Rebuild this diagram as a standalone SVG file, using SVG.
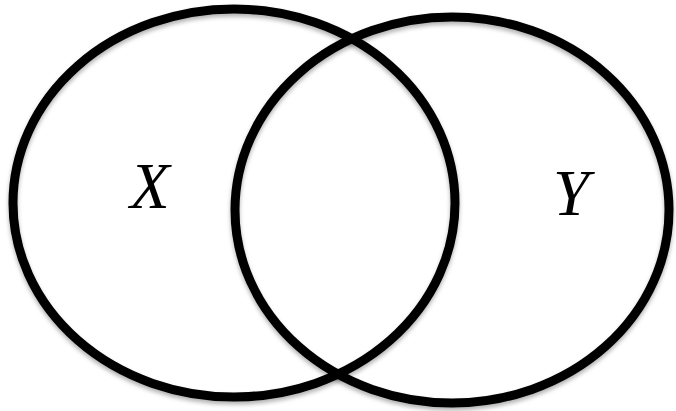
<svg xmlns="http://www.w3.org/2000/svg" width="676" height="411" viewBox="0 0 676 411">
<style>
.set{fill:none;stroke:#000;stroke-width:9;filter:url(#sh)}
.lbl{font-family:"Liberation Serif","DejaVu Serif",serif;font-style:italic;font-size:65px;fill:#000}
</style>
<defs>
<filter id="sh" x="-10%" y="-10%" width="120%" height="120%">
<feDropShadow dx="0" dy="3" stdDeviation="2" flood-color="#000" flood-opacity="0.3"/>
</filter>
</defs>
<rect width="676" height="411" fill="#fff"/>
<g id="setX">
<ellipse class="set" cx="234" cy="203" rx="221" ry="194"/>
<text class="lbl" x="130" y="208">X</text>
</g>
<g id="setY">
<ellipse class="set" cx="452" cy="210" rx="217" ry="193"/>
<text class="lbl" x="553" y="215">Y</text>
</g>
<g id="connectors"></g>
</svg>
